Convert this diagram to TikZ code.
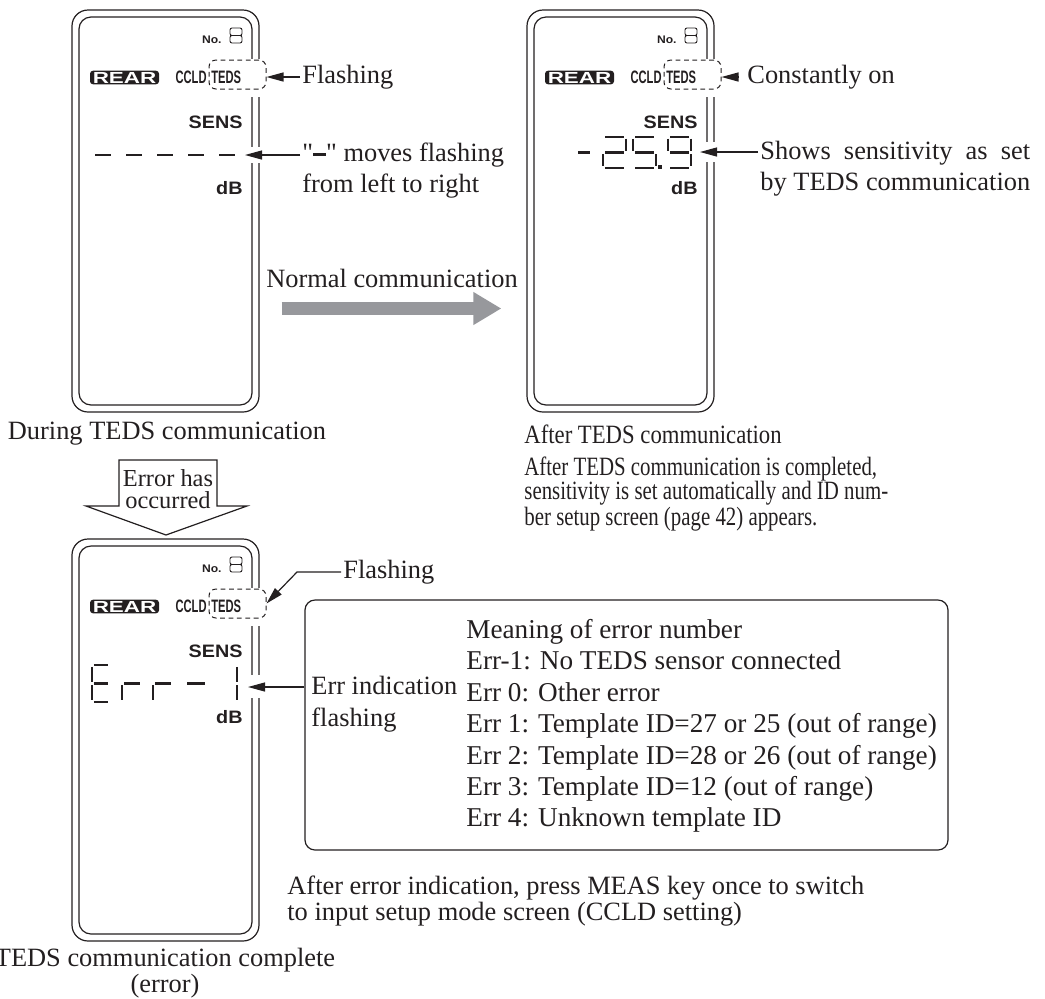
\documentclass[tikz,border=0pt]{standalone}
\usepackage{fontspec}
\setmainfont{Liberation Serif}
\newfontfamily\noteslim{Liberation Serif}[FakeStretch=0.79]
\newfontfamily\capslim{Liberation Serif}[FakeStretch=0.86]
\newfontfamily\lcdsans{Liberation Sans}[FakeStretch=1.1]
\newfontfamily\lcdwide{Liberation Sans}[FakeStretch=1.4]
\newfontfamily\lcdnarrow{Liberation Sans}[FakeStretch=0.62]
\usetikzlibrary{arrows.meta,positioning,calc}
\definecolor{panelInk}{HTML}{231F20}
\definecolor{flowGray}{HTML}{97989C}
\newlength\showswd

% one seven-segment digit: x, y (top left), width, height, segments
\newcommand{\lcddigit}[5]{%
  \begin{scope}[shift={(#1,#2)}, xscale=#3/10, yscale=#4/20]
    \foreach \sg in {#5} {\draw[lcdseg, seg/\sg];}
  \end{scope}}

\begin{document}
\begin{tikzpicture}[
  x=.5pt,
  y=-.5pt,
  frame/.style={
    draw=panelInk,
    line width=.6pt,
    rounded corners=8pt,
    minimum width=93.5pt,
    minimum height=201pt,
    inner sep=0pt
  },
  innerframe/.style={frame, rounded corners=6pt, minimum width=86.5pt, minimum height=194pt},
  dashbox/.style={
    draw=panelInk,
    dash pattern=on 2.4pt off 1.8pt,
    line width=.5pt,
    rounded corners=3.5pt,
    minimum width=28.5pt,
    minimum height=14.5pt,
    inner sep=0pt
  },
  rearchip/.style={
    fill=panelInk,
    rounded corners=1.5pt,
    minimum width=34.5pt,
    minimum height=6.8pt,
    inner sep=0pt,
    text=white,
    font=\lcdwide\bfseries\fontsize{8}{8}\selectfont
  },
  lcdlabel/.style={inner sep=0pt, text=panelInk, font=\lcdsans\bfseries\fontsize{9}{10}\selectfont},
  lcdsmall/.style={lcdlabel, font=\lcdsans\bfseries\fontsize{5.5}{6}\selectfont},
  lcdcond/.style={lcdlabel, font=\lcdnarrow\bfseries\fontsize{9}{10}\selectfont},
  lcdseg/.style={draw=panelInk, line width=1.4pt},
  lcdthin/.style={draw=panelInk, line width=.45pt, rounded corners=1pt},
  seg/a/.style={insert path={(1,0) -- (9,0)}},
  seg/b/.style={insert path={(10,1) -- (10,9)}},
  seg/c/.style={insert path={(10,11) -- (10,19)}},
  seg/d/.style={insert path={(1,20) -- (9,20)}},
  seg/e/.style={insert path={(0,11) -- (0,19)}},
  seg/f/.style={insert path={(0,1) -- (0,9)}},
  seg/g/.style={insert path={(1,10) -- (9,10)}},
  blank/.style={fill=white},
  note/.style={inner sep=1pt, align=left, text=panelInk, font=\fontsize{13.2}{15.5}\selectfont},
  flow/.style={-{Triangle[length=8.5pt,width=4.5pt]}, draw=panelInk, line width=.6pt},
  bigflow/.style={-{Triangle[length=14pt,width=15.5pt]}, draw=flowGray, line width=6.5pt},
  blockarrow/.style={draw=panelInk, line width=.6pt, fill=white},
  listbox/.style={
    draw=panelInk,
    line width=.6pt,
    rounded corners=5pt,
    minimum width=321.5pt,
    minimum height=125pt,
    inner sep=0pt
  }
]

\path[use as bounding box] (0,0) rectangle (1045,998);

% the three display panels
\foreach \ox/\oy/\pn in {72/10/1, 527/10/2, 72/539/3} {
  \node[frame] (p\pn) at (\ox+93.5,\oy+201) {};
  \node[innerframe] (q\pn) at (\ox+93.5,\oy+201) {};
  \fill[blank] (\ox+172,\oy+49) rectangle (\ox+192,\oy+87);
  \node[lcdsmall, anchor=east] (no\pn) at (\ox+150,\oy+30) {No.};
  \draw[lcdthin] (\ox+158,\oy+18) rectangle (\ox+170,\oy+25.5)
                 (\ox+158,\oy+25.5) rectangle (\ox+170,\oy+33);
  \node[rearchip] (rear\pn) at (\ox+52.5,\oy+67.5) {REAR};
  \node[lcdcond, anchor=east] (ccld\pn) at (\ox+135,\oy+67) {CCLD};
  \node[lcdcond, anchor=west] (tedsl\pn) at (\ox+139,\oy+67) {TEDS};
  \node[dashbox] (teds\pn) at (\ox+165.5,\oy+64.5) {};
  \node[lcdlabel, anchor=east] (sens\pn) at (\ox+171,\oy+112) {SENS};
  \node[lcdlabel, anchor=east] (db\pn) at (\ox+171,\oy+178) {dB};
}

\fill[blank] (244,147) rectangle (264,163);
\fill[blank] (699,142) rectangle (719,162);
\fill[blank] (244,675) rectangle (264,698);

% panel 1: during communication
\foreach \dx in {93,124,155,186,217} {\lcddigit{\dx}{140}{20}{30}{g}}
\coordinate (dash1) at (245,155);

\node[note, anchor=west] (flash1) at (300,77) {Flashing};
\node[note, anchor=west] (moves) at (300,170.5)
  {\textquotedbl\rule[2.6pt]{6.5pt}{1.5pt}\textquotedbl{} moves flashing\\from left to right};
\draw[flow] (flash1.west) -- (teds1.east |- flash1.west);
\draw[flow] (moves.west |- dash1) -- (dash1);

\node[note, anchor=center] (cap1) at (167,434) {During TEDS communication};

% panel 2: after communication
\lcddigit{577}{137}{14}{31}{g}
\lcddigit{603}{137}{23}{31}{a,b,g,e,d}
\lcddigit{633}{137}{23}{31}{a,f,g,c,d}
\lcddigit{668}{137}{23}{31}{a,b,c,d,f,g}
\fill[panelInk] (658,165) rectangle (661.5,168.5);
\coordinate (digit9) at (700,152);

\node[note, anchor=west] (const) at (745,77) {Constantly on};
\node[note, anchor=west] (shows) at (758,168.5)
  {\settowidth\showswd{by TEDS communication}%
   \makebox[\showswd][s]{Shows sensitivity as set}\\by TEDS communication};
\draw[flow, shorten <=3pt] (const.west) -- (teds2.east |- const.west);
\draw[flow] (shows.west |- digit9) -- (digit9);

\node[note, anchor=center] (normal) at (392,278) {Normal communication};
\coordinate (ncrow) at (392,308.5);
\draw[bigflow, shorten <=11pt, shorten >=12.5pt] (p1.east |- ncrow) -- (p2.west |- ncrow);

\node[note, anchor=west, font=\capslim\fontsize{13.2}{15.5}\selectfont] (cap2) at (522,434)
  {After TEDS communication};
\node[note, anchor=west, font=\noteslim\fontsize{13.2}{12}\selectfont] (after) at (522,494)
  {After TEDS communication is completed,\\sensitivity is set automatically and ID num-\\ber setup screen (page 42) appears.};

% error branch
\draw[blockarrow] (119,460) -- (217,460) -- (217,506) -- (247,506) -- (166,535)
  -- (86,506) -- (119,506) -- cycle;
\node[note, align=center, inner sep=0pt, font=\fontsize{12.2}{11}\selectfont] (errtxt) at (168,489)
  {Error has\\occurred};

% panel 3: communication complete (error)
\lcddigit{92}{665}{18}{37}{a,d,e,f,g}
\lcddigit{122}{665}{20}{37}{e,g}
\lcddigit{153}{665}{20}{37}{e,g}
\lcddigit{185}{665}{22}{37}{g}
\lcddigit{217}{665}{20}{37}{b,c}
\coordinate (digit1) at (248,687);

\node[note, anchor=west] (flash3) at (341,572) {Flashing};
\draw[flow] (flash3.west) -- ++(-44,0) -- (teds3.east);

\node[listbox] (errbox) at (626.5,725) {};
\node[note, anchor=west, font=\fontsize{13.2}{16}\selectfont] (errind) at (309,704)
  {Err indication\\flashing};
\node[note, anchor=west, font=\fontsize{13.6}{15.7}\selectfont] (errlist) at (464,726)
  {Meaning of error number\\
   Err-1: No TEDS sensor connected\\
   Err 0: Other error\\
   Err 1: Template ID=27 or 25 (out of range)\\
   Err 2: Template ID=28 or 26 (out of range)\\
   Err 3: Template ID=12 (out of range)\\
   Err 4: Unknown template ID};
\draw[flow] (errbox.west |- digit1) -- (digit1);

\node[note, anchor=west, font=\fontsize{13.2}{13}\selectfont] (meas) at (285,901)
  {After error indication, press MEAS key once to switch\\to input setup mode screen (CCLD setting)};
\node[note, align=center, font=\fontsize{13.2}{11.5}\selectfont] (cap3) at (165,973.5)
  {TEDS communication complete\\(error)};
\end{tikzpicture}
\end{document}
